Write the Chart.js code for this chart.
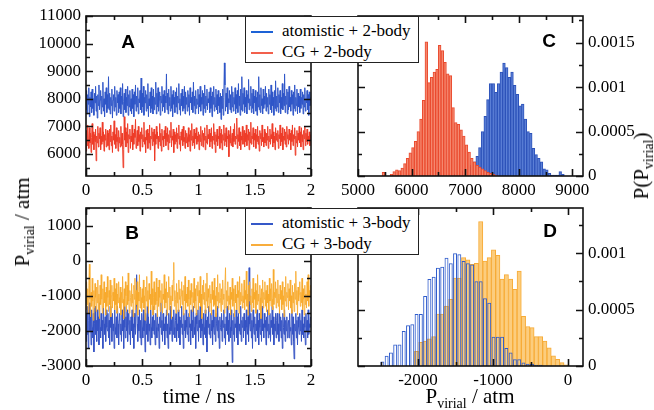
<!DOCTYPE html>
<html>
<head>
<meta charset="utf-8">
<script src="https://cdn.jsdelivr.net/npm/chart.js@4.4.0/dist/chart.umd.min.js"></script>
<style>
body { margin: 0; background: #fff; }
#wrap { position: relative; width: 654px; height: 410px; overflow: hidden; background: #fff; }
canvas { position: absolute; left: 0; top: 0; }
.t { position: absolute; font: 21px "Liberation Serif", "Times New Roman", serif; color: #000; white-space: nowrap; line-height: 24px; }
.t sub { font-size: 14px; vertical-align: -5px; line-height: 0; }
.rot { transform: translate(-50%, -50%) rotate(-90deg); }
.letter { position: absolute; font: bold 19px "Liberation Sans", Arial, sans-serif; transform: translate(-50%, -50%); }
.legend { position: absolute; box-sizing: border-box; border: 1.3px solid #222; background: #fff; padding: 3px 0 0 5px;
  font: 17px "Liberation Serif", "Times New Roman", serif; line-height: 21px; z-index: 5; }
.legend span { display: inline-block; width: 22px; height: 2px; margin-right: 9px; vertical-align: middle; }
</style>
</head>
<body>
<div id="wrap">
  <canvas id="panelA" width="654" height="410"></canvas>
  <canvas id="panelB" width="654" height="410"></canvas>
  <canvas id="panelC" width="654" height="410"></canvas>
  <canvas id="panelD" width="654" height="410"></canvas>

  <div class="legend" style="left:245px;top:16px;width:174px;height:47px">
    <div><span style="background:#1d62d6"></span>atomistic + 2-body</div>
    <div><span style="background:#f2604c"></span>CG + 2-body</div>
  </div>
  <div class="legend" style="left:245px;top:208px;width:174px;height:47px">
    <div><span style="background:#3558c8"></span>atomistic + 3-body</div>
    <div><span style="background:#f8ad3c"></span>CG + 3-body</div>
  </div>

  <div class="letter" style="left:128px;top:42px">A</div>
  <div class="letter" style="left:549px;top:41px">C</div>
  <div class="letter" style="left:132px;top:233px">B</div>
  <div class="letter" style="left:550px;top:231px">D</div>

  <div class="t rot" style="left:22px;top:222px">P<sub>virial</sub> / atm</div>
  <div class="t rot" style="left:641px;top:166px">P(P<sub>virial</sub>)</div>
  <div class="t" style="left:199px;top:384px;transform:translateX(-50%)">time / ns</div>
  <div class="t" style="left:470px;top:384px;transform:translateX(-50%)">P<sub>virial</sub> / atm</div>
</div>

<script>
// time series, one stored frame every 0.005 ns
const timeStep = 0.005;

const atomistic2body = [
  7600, 8300, 7450, 8150, 7800, 8400, 7350, 8050, 7700, 8250, 7500, 8350, 7650, 8000, 7400, 8200, 7850, 8450, 7550, 8100,
  7300, 8150, 7750, 8500, 7600, 7950, 8300, 7450, 8100, 7700, 8600, 7550, 8000, 7350, 8250, 7800, 8400, 7500, 8150, 7650,
  8800, 7600, 8200, 7450, 8050, 7750, 8350, 7300, 7950, 8150, 7550, 8450, 7700, 8050, 7400, 8300, 7850, 8150, 7500, 8250,
  7650, 8400, 7450, 8100, 7800, 8550, 7350, 7900, 8200, 7600, 8350, 7500, 8050, 7750, 8450, 7400, 8150, 7700, 8300, 7550,
  8000, 7450, 8350, 7650, 8150, 7350, 8250, 7800, 8500, 7550, 8100, 7700, 8400, 7450, 8000, 7850, 8300, 7600, 8750, 7500,
  8200, 7700, 8450, 7400, 8050, 7850, 8300, 7550, 8150, 7650, 8550, 7350, 8000, 7750, 8250, 7500, 8400, 7650, 8100, 7450,
  8350, 7600, 8050, 7800, 8600, 7450, 8200, 7700, 8400, 7550, 7950, 8250, 7400, 8100, 7850, 8450, 7550, 8150, 7700, 8300,
  7500, 8100, 7850, 8900, 7600, 8200, 7450, 8350, 7750, 8050, 7550, 8450, 7650, 8150, 7350, 8300, 7800, 8050, 7500, 8250,
  7700, 8400, 7450, 8100, 7850, 8550, 7600, 8000, 7400, 8200, 7750, 8350, 7550, 8100, 7650, 8450, 7450, 8250, 7800, 8050,
  7550, 8300, 7700, 8150, 7400, 8400, 7850, 8050, 7600, 8250, 7500, 8600, 7750, 8100, 7450, 8300, 7650, 8000, 7800, 8350,
  7450, 8150, 7700, 8450, 7550, 8050, 7800, 8300, 7400, 8200, 7650, 8500, 7500, 8100, 7750, 8350, 7600, 8000, 7850, 8250,
  7500, 8400, 7650, 8100, 7350, 8250, 7800, 8450, 7550, 8050, 7700, 8350, 7600, 8150, 7450, 8300, 7750, 8050, 7500, 8200,
  7250, 8100, 7650, 8350, 7400, 8050, 9300, 8500, 7550, 8200, 7700, 8400, 7450, 8000, 7850, 8300, 7600, 8150, 7500, 8450,
  7700, 8250, 7550, 8050, 7800, 8400, 7450, 8150, 7650, 8300, 7500, 8550, 7750, 8100, 7400, 8350, 7600, 8800, 7550, 8200,
  7800, 8400, 7500, 8050, 7700, 8300, 7450, 8150, 7850, 8700, 7600, 8000, 7750, 8450, 7500, 8200, 7650, 8350, 7450, 8100,
  7850, 8300, 7550, 8050, 7400, 8250, 7700, 8800, 7600, 8150, 7500, 8400, 7750, 8000, 7450, 8350, 7650, 8100, 7800, 8450,
  7550, 8200, 7700, 8050, 7450, 8350, 7800, 8150, 7600, 8500, 7500, 8250, 7750, 8050, 7400, 8300, 7650, 8650, 7550, 8100,
  7700, 8400, 7500, 8150, 7850, 8300, 7450, 8050, 7650, 8550, 7600, 8200, 7750, 8900, 7500, 8100, 7800, 8350, 7450, 8250,
  7600, 8450, 7700, 8050, 7550, 8300, 7800, 8150, 7400, 8250, 7650, 8500, 7550, 8050, 7750, 8350, 7450, 8200, 7700, 8100,
  7500, 8350, 7650, 8050, 7800, 8250, 7450, 8150, 7700, 8400, 7550, 8000, 7850, 8300, 7600, 8150, 7400, 8250, 7750, 8050
];
const cg2body = [
  6100, 6850, 6300, 7050, 6500, 6200, 6950, 6400, 6750, 6050, 6600, 7100, 6350, 6800, 6150, 6700, 6450, 6900, 5750, 6650,
  6400, 7000, 6250, 6750, 6550, 6950, 6150, 6650, 6350, 7150, 6450, 6800, 6100, 6700, 6500, 6900, 6250, 6600, 6850, 6300,
  6750, 6150, 6900, 6450, 7050, 6300, 6650, 6050, 6800, 6500, 7200, 6350, 6700, 6200, 6950, 6450, 6600, 6100, 6850, 6400,
  6600, 6250, 7000, 6300, 6750, 6350, 5500, 6150, 7350, 6500, 6950, 6250, 6800, 6400, 7100, 6050, 6700, 6550, 6900, 6200,
  6650, 6450, 7050, 6150, 6750, 6350, 6900, 6600, 7250, 6200, 6500, 6850, 6300, 7000, 6450, 6700, 6100, 6800, 6550, 6950,
  6250, 6700, 6450, 7150, 6350, 6600, 6050, 6850, 6500, 6900, 6200, 6750, 6400, 7050, 6150, 6650, 6550, 6950, 6300, 6800,
  6450, 6900, 5750, 6700, 6350, 7000, 6550, 6800, 6200, 6650, 6450, 7100, 6300, 6750, 6100, 6900, 6500, 6650, 6250, 6850,
  6550, 7000, 6300, 6750, 6450, 6950, 6150, 6700, 6400, 6850, 6600, 7150, 6250, 6650, 6500, 6900, 6050, 6800, 6350, 6700,
  6450, 6950, 6200, 6750, 6550, 7050, 6350, 6650, 6100, 6800, 6500, 6900, 6300, 7000, 6450, 6600, 6200, 6850, 6400, 6750,
  6600, 6250, 6950, 6450, 6700, 6100, 6850, 6500, 7100, 6300, 6650, 6400, 6900, 6200, 6750, 6550, 6950, 6350, 6650, 6450,
  6800, 6150, 6700, 6450, 7000, 6300, 6600, 6850, 6250, 6750, 6500, 6950, 6150, 6650, 6400, 7050, 6350, 6700, 6550, 6900,
  6250, 6750, 6450, 6950, 6200, 6650, 6500, 7100, 6350, 6800, 6050, 6700, 6450, 6900, 6300, 6650, 6550, 7000, 6200, 6750,
  6400, 6900, 6150, 6700, 6500, 7050, 6300, 6750, 6450, 6950, 6250, 6650, 6550, 6850, 5900, 6700, 6400, 7000, 6300, 6600,
  6750, 6250, 6900, 6450, 7100, 6350, 6650, 6550, 7300, 6200, 6700, 6450, 6950, 6300, 6800, 6150, 6650, 6500, 7000, 6350,
  6600, 6850, 6250, 6750, 6450, 7050, 6300, 6700, 6500, 6900, 6150, 6800, 6400, 7150, 6350, 6650, 6550, 6950, 6250, 6750,
  6500, 6900, 6200, 6700, 6450, 7000, 6350, 6650, 6100, 6850, 6550, 6750, 6300, 7050, 6450, 6600, 6250, 6900, 6400, 6800,
  6300, 6750, 6500, 7000, 6200, 6650, 6450, 6900, 6350, 6700, 6550, 7100, 6250, 6800, 6400, 6650, 6150, 6950, 6500, 6750,
  6450, 6850, 6200, 6700, 6550, 7050, 6300, 6750, 6450, 6950, 6150, 6650, 6500, 6900, 6350, 6800, 6250, 7000, 6550, 6700,
  6350, 6900, 6500, 6750, 6150, 6850, 6450, 7050, 6300, 6700, 6550, 6950, 5950, 6650, 6400, 6850, 6250, 6750, 6500, 7000,
  6400, 6800, 6250, 6950, 6450, 6700, 6150, 6850, 6550, 7000, 6300, 6750, 6450, 6900, 6350, 6650, 6500, 6800, 6300, 6700
];
const atomistic3body = [
  -2300, -1500, -2100, -1300, -2500, -1700, -1200, -2000, -1600, -2400, -1400, -1900, -2200, -1500, -2600, -1800, -1300, -2100, -1700, -2300,
  -1400, -2000, -1600, -2400, -1200, -1900, -2200, -1500, -2000, -1700, -2500, -1300, -1800, -2100, -1600, -2300, -1400, -1900, -2000, -1500,
  -2200, -1700, -2400, -1300, -1900, -1600, -2300, -1500, -2000, -1800, -2500, -1400, -1900, -2100, -1600, -2200, -1300, -1800, -2400, -1700,
  -1500, -2100, -1800, -2300, -1400, -2000, -1700, -2500, -1300, -1900, -2200, -1600, -2000, -1400, -2300, -1800, -1500, -2100, -1700, -2400,
  -1600, -2000, -1400, -2200, -1800, -2500, -1500, -1900, -2100, -1300, -400, -1800, -2300, -1600, -2000, -1400, -2200, -1700, -2400, -1500,
  -1900, -2200, -1400, -2000, -1700, -2600, -1500, -1800, -2100, -1300, -2300, -1600, -2000, -1800, -2400, -1400, -1900, -2200, -1600, -2000,
  -1300, -2100, -1700, -2400, -1500, -1900, -2200, -1400, -2000, -1800, -2500, -1600, -1900, -1200, -2100, -1700, -2300, -1500, -2000, -1800,
  -2400, -1600, -2000, -1400, -2200, -1800, -2500, -1500, -1900, -2100, -1300, -2000, -1700, -2300, -1600, -2100, -1400, -1900, -2200, -1700,
  -1500, -2300, -1800, -2000, -1400, -2200, -1600, -2400, -1700, -1900, -1300, -2100, -1800, -2500, -1500, -2000, -1700, -2200, -1400, -1900,
  -2100, -1600, -2300, -1500, -1900, -1800, -2400, -1400, -2000, -1700, -2200, -1300, -1900, -2100, -1600, -2500, -1500, -1800, -2000, -1400,
  -2300, -1700, -1900, -1300, -2200, -1600, -2000, -1800, -2400, -1500, -1900, -2100, -1400, -2200, -1700, -2600, -1600, -1900, -1300, -2100,
  -1800, -2200, -1500, -2000, -1700, -2400, -1400, -1900, -2100, -1600, -2300, -1500, -1800, -2000, -1300, -2200, -1700, -2500, -1600, -1900,
  -2000, -1500, -2300, -1700, -1900, -1400, -2200, -1800, -2400, -1600, -2000, -1300, -2100, -1700, -2300, -1500, -1900, -2200, -1400, -2000,
  -2900, -1700, -2100, -1500, -2300, -1800, -1900, -1400, -2200, -1600, -2400, -1500, -2000, -1800, -2100, -1300, -2300, -1700, -1900, -1600,
  -2200, -1500, -2000, -1700, -2400, -1400, -1900, -2100, -1600, -2300, -200, -1800, -2000, -1500, -2200, -1700, -2500, -1400, -1900, -2100,
  -1600, -2300, -1800, -2000, -1400, -2200, -1700, -2400, -1500, -1900, -2100, -1600, -2300, -1300, -2000, -1800, -2200, -1500, -1900, -1700,
  -2400, -1600, -2000, -1400, -2200, -1800, -2100, -1500, -2300, -1700, -1900, -1300, -2100, -1600, -2400, -1800, -2000, -1500, -2200, -1700,
  -1500, -2100, -1800, -2300, -1400, -2000, -1600, -2200, -1700, -2500, -1500, -1900, -2100, -1400, -2300, -1700, -2000, -1600, -2200, -1800,
  -1700, -2200, -1500, -2000, -1900, -2400, -1400, -2100, -1600, -2300, -2800, -1800, -2000, -1500, -2200, -1700, -2400, -1600, -1900, -2100,
  -1500, -2000, -1700, -2300, -1400, -2100, -1800, -2200, -1600, -1900, -2400, -1500, -2000, -1700, -2200, -1400, -2100, -1800, -1900, -1600
];
const cg3body = [
  -1400, -600, -1250, -800, -1500, -700, -100, -1100, -1600, -900, -1300, -500, -1150, -1700, -850, -1350, -650, -1050, -1450, -750,
  -1200, -550, -1400, -950, -1650, -700, -1250, -400, -1100, -1500, -800, -1350, -600, -1200, -900, -1550, -750, -1300, -450, -1050,
  -1450, -850, -1250, -550, -1600, -1000, -700, -1350, -900, -1150, -500, -1400, -800, -1250, -650, -1500, -950, -1200, -600, -1050,
  -1350, -750, -1550, -900, -1200, -450, -1100, -1650, -800, -1300, -600, -1000, -1450, -700, -1250, -350, -1150, -1500, -850, -1050,
  -1300, -650, -1200, -950, -1600, -700, -1100, -500, -1400, -850, -1250, -600, -1550, -900, -1150, -400, -1350, -750, -1050, -1450,
  -800, -1200, -550, -1350, -1000, -1700, -750, -1150, -450, -1300, -850, -1500, -650, -1100, -950, -1400, -300, -1250, -800, -1550,
  -1050, -600, -1400, -900, -1250, -500, -1150, -1600, -750, -1300, -550, -1050, -1450, -850, -1200, -650, -1500, -950, -1100, -400,
  -1350, -800, -1200, -600, -1550, -900, -1050, -450, -1400, -750, -1250, -1000, -1650, -700, -1150, -550, -50, -1300, -850, -1100,
  -1500, -650, -1200, -900, -1450, -550, -1100, -800, -1350, -1000, -600, -1250, -850, -1550, -700, -1150, -450, -1400, -950, -1200,
  -750, -1300, -550, -1100, -1600, -850, -1250, -650, -1050, -1450, -900, -1200, -500, -1350, -800, -1150, -1550, -700, -1000, -600,
  -1400, -850, -1200, -450, -1300, -950, -1650, -700, -1100, -550, -1250, -900, -1500, -650, -1150, -350, -1350, -800, -1050, -1450,
  -700, -1200, -950, -1550, -600, -1100, -850, -1300, -500, -1250, -1000, -1600, -750, -1150, -400, -1350, -900, -1200, -650, -1050,
  -1450, -800, -1250, -550, -1100, -950, -1500, -700, -200, -1350, -850, -1150, -600, -1400, -1000, -1250, -750, -1550, -900, -1100,
  -500, -1300, -800, -1150, -1600, -700, -1200, -950, -1400, -600, -1050, -850, -1500, -450, -1250, -900, -1150, -650, -1350, -1000,
  -1200, -550, -1400, -850, -1100, -300, -1300, -950, -1550, -700, -1150, -600, -1250, -1000, -1450, -800, -1200, -500, -1350, -900,
  -1100, -650, -1500, -850, -1250, -400, -1150, -950, -1400, -700, -1050, -1650, -800, -1200, -550, -1350, -900, -1100, -600, -1300,
  -850, -1450, -700, -1200, -950, -1550, -500, -1150, -800, -1300, -650, -1100, -1400, -250, -1250, -900, -1050, -600, -1350, -800,
  -1200, -550, -1300, -950, -1500, -700, -1100, -850, -1400, -600, -1250, -1000, -1600, -750, -1150, -450, -1300, -900, -1050, -650,
  -1400, -800, -1150, -550, -1350, -1000, -1500, -700, -1200, -900, -1450, -650, -1100, -300, -1250, -850, -1550, -750, -1150, -950,
  -600, -1300, -900, -1200, -500, -1400, -800, -1100, -1550, -700, -1250, -950, -1350, -600, -1150, -400, -1300, -850, -1050, -700
];

// histograms (bin centres start at the first value, fixed bin width)
const histC = { firstRed: 5475, firstBlue: 6825, width: 50 };
const cg2bodyHist = [
  0.00004, 0, 0, 0.00002, 0.00005, 0.00007, 0.00006, 0.00009, 0.00014, 0.0002,
  0.00026, 0.00032, 0.00039, 0.0005, 0.00064, 0.00085, 0.00151, 0.00105, 0.00111, 0.00117,
  0.0012, 0.00147, 0.00141, 0.00128, 0.00115, 0.00113, 0.00077, 0.0006, 0.00058, 0.00052,
  0.00045, 0.00035, 0.00027, 0.0002, 0.00016, 0.00012, 0.0001, 0.00008, 0.00006, 0.00004,
  0.00003, 0.00002, 0.00001
];
const atomistic2bodyHist = [
  0.00002, 0.00003, 0.00004, 0.00006, 0.00008, 0.0001, 0.00012, 0.00016, 0.00022, 0.00032,
  0.0005, 0.00067, 0.00086, 0.00104, 0.00104, 0.00094, 0.00104, 0.00117, 0.00127, 0.00122,
  0.00111, 0.00117, 0.00102, 0.00092, 0.00079, 0.00081, 0.00064, 0.0005, 0.00048, 0.00031,
  0.00024, 0.0002, 0.00016, 0.00008, 0.00007, 0.00003, 0.00001, 0.00001, 0.00001, 0.00005,
  0.00002
];
const histD = { first: -2475, width: 57 };
const atomistic3bodyHist = [
  0.00004, 0.00009, 0.00012, 0.00019, 0.00019, 0.00031, 0.00036, 0.00037, 0.00046, 0.00046,
  0.00062, 0.00077, 0.00079, 0.00087, 0.00088, 0.00096, 0.00091, 0.001, 0.00099, 0.00093,
  0.00091, 0.0009, 0.00075, 0.00075, 0.0006, 0.00056, 0.00026, 0.00026, 0.00026, 0.00016,
  0.00012, 0.00006, 0.00006, 0.00003, 0.00002, 0.00002, 0.00001, 0.00001, 0, 0,
  0, 0, 0, 0
];
const cg3bodyHist = [
  0, 0, 0, 0, 0, 0, 0, 0, 0.00013, 0.00021,
  0.00022, 0.00024, 0.00026, 0.00046, 0.00046, 0.00053, 0.00059, 0.00078, 0.00078, 0.00096,
  0.00094, 0.0009, 0.00091, 0.00128, 0.00093, 0.00096, 0.00103, 0.00098, 0.00077, 0.00081,
  0.00077, 0.00068, 0.00084, 0.00044, 0.00035, 0.00034, 0.00026, 0.00026, 0.00022, 0.00016,
  0.00009, 0.00006, 0.00003, 0.00001
];

// tick labels
const timeTicks = [0, 0.5, 1, 1.5, 2];
const ticksAy = [6000, 7000, 8000, 9000, 10000, 11000];
const ticksBy = [-3000, -2000, -1000, 0, 1000];
const ticksCx = [5000, 6000, 7000, 8000, 9000];
const ticksCy = [0, 0.0005, 0.001, 0.0015];
const ticksDx = [-2000, -1000, 0];
const ticksDy = [0, 0.0005, 0.001];

Chart.defaults.font.family = '"Liberation Serif", "Times New Roman", serif';
Chart.defaults.font.size = 17;
Chart.defaults.color = '#000';

// closed frame with xmgrace style inward ticks on all four sides
const frame = {
  id: 'frame',
  afterDatasetsDraw(chart, args, o) {
    const { ctx, chartArea: a } = chart;
    ctx.save();
    ctx.strokeStyle = '#111';
    ctx.lineWidth = 1.6;
    ctx.beginPath();
    const tick = (s, v, len) => {
      if (v < s.min - 1e-9 || v > s.max + 1e-9) return;
      const p = Math.round(s.getPixelForValue(v)) + 0.5;
      if (s.isHorizontal()) {
        ctx.moveTo(p, a.bottom); ctx.lineTo(p, a.bottom - len);
        ctx.moveTo(p, a.top); ctx.lineTo(p, a.top + len);
      } else {
        ctx.moveTo(a.left, p); ctx.lineTo(a.left + len, p);
        ctx.moveTo(a.right, p); ctx.lineTo(a.right - len, p);
      }
    };
    [chart.scales.x, chart.scales.y].forEach((s, k) => {
      const step = k ? o.yMinor : o.xMinor;
      for (let v = Math.ceil(s.min / step) * step; v <= s.max + 1e-12; v += step) tick(s, v, 4);
      s.ticks.forEach(t => tick(s, t.value, 7));
    });
    ctx.stroke();
    ctx.strokeRect(a.left, a.top, a.right - a.left, a.bottom - a.top);
    ctx.restore();
  }
};

function toPoints(values) {
  return values.map((v, i) => ({ x: i * timeStep, y: v }));
}
function toBins(values, first, width) {
  return values.map((v, i) => ({ x: first + i * width, y: v }));
}

function panel(id, type, datasets, o) {
  return new Chart(document.getElementById(id), {
    type: type,
    data: { datasets: datasets },
    options: {
      responsive: false,
      animation: false,
      devicePixelRatio: 1,
      layout: { padding: o.pad },
      plugins: {
        legend: { display: false },
        tooltip: { enabled: false },
        frame: { xMinor: o.xMinor, yMinor: o.yMinor }
      },
      scales: {
        x: {
          type: 'linear', min: o.x[0], max: o.x[1], offset: false,
          grid: { display: false, drawTicks: false }, border: { display: false },
          ticks: { padding: 4, autoSkip: false, maxRotation: 0, callback: v => String(v) },
          afterBuildTicks: s => { s.ticks = o.xTicks.map(v => ({ value: v })); },
          afterFit: s => { s.height = 24; }
        },
        y: {
          type: 'linear', position: o.yPos, min: o.y[0], max: o.y[1],
          grid: { display: false, drawTicks: false }, border: { display: false },
          ticks: { padding: 5, autoSkip: false, callback: v => String(v) },
          afterBuildTicks: s => { s.ticks = o.yTicks.map(v => ({ value: v })); },
          afterFit: s => { s.width = o.yWidth; }
        }
      }
    },
    plugins: [frame]
  });
}

const lineStyle = { pointRadius: 0, borderWidth: 1, tension: 0 };
const barStyle = { grouped: false, barPercentage: 1, categoryPercentage: 1, borderWidth: 1 };

panel('panelA', 'line', [
  Object.assign({ data: toPoints(atomistic2body), borderColor: '#2f56c8' }, lineStyle),
  Object.assign({ data: toPoints(cg2body), borderColor: '#ee3c28' }, lineStyle)
], {
  pad: { left: 36, right: 343, top: 16, bottom: 210 }, yPos: 'left', yWidth: 50,
  x: [0, 2], y: [5200, 11000], xTicks: timeTicks, yTicks: ticksAy, xMinor: 0.25, yMinor: 500
});

panel('panelB', 'line', [
  Object.assign({ data: toPoints(cg3body), borderColor: 'rgba(248,170,45,0.85)' }, lineStyle),
  Object.assign({ data: toPoints(atomistic3body), borderColor: '#3553c4' }, lineStyle)
], {
  pad: { left: 36, right: 343, top: 208, bottom: 20 }, yPos: 'left', yWidth: 50,
  x: [0, 2], y: [-3000, 1500], xTicks: timeTicks, yTicks: ticksBy, xMinor: 0.25, yMinor: 500
});

panel('panelC', 'bar', [
  Object.assign({ data: toBins(cg2bodyHist, histC.firstRed, histC.width),
    backgroundColor: '#f5886f', borderColor: '#ea4a2e' }, barStyle),
  Object.assign({ data: toBins(atomistic2bodyHist, histC.firstBlue, histC.width),
    backgroundColor: '#5b7fd6', borderColor: '#2c52b9' }, barStyle)
], {
  pad: { left: 358, right: 11, top: 16, bottom: 210 }, yPos: 'right', yWidth: 60,
  x: [5000, 9200], y: [0, 0.0018], xTicks: ticksCx, yTicks: ticksCy, xMinor: 500, yMinor: 0.00025
});

panel('panelD', 'bar', [
  Object.assign({ data: toBins(atomistic3bodyHist, histD.first, histD.width),
    backgroundColor: 'rgba(0,0,0,0)', borderColor: '#2f5ccc' }, barStyle, { barPercentage: 0.92 }),
  Object.assign({ data: toBins(cg3bodyHist, histD.first, histD.width),
    backgroundColor: '#fccd7e', borderColor: '#f7ab36' }, barStyle)
], {
  pad: { left: 358, right: 11, top: 208, bottom: 20 }, yPos: 'right', yWidth: 60,
  x: [-2800, 200], y: [0, 0.0014], xTicks: ticksDx, yTicks: ticksDy, xMinor: 500, yMinor: 0.00025
});
</script>
</body>
</html>
